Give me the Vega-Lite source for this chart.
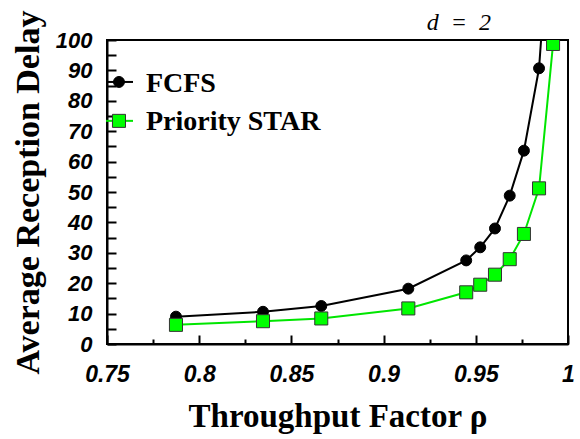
{
  "$schema": "https://vega.github.io/schema/vega-lite/v6.json",
  "width": 461,
  "height": 304,
  "autosize": {"type": "none"},
  "padding": {"left": 107, "top": 40, "right": 12, "bottom": 95},
  "background": "white",
  "config": {
    "view": {"stroke": "black", "strokeWidth": 2}
  },
  "title": {"text": "d\u2002=\u20022", "font": "Liberation Serif", "fontStyle": "italic", "fontWeight": "normal", "fontSize": 24, "color": "black", "anchor": "end", "frame": "group", "dx": -77, "dy": 57, "offset": 13, "baseline": "alphabetic"},
  "datasets": {
    "curves": [
      {"series": "FCFS", "rho": 0.7874, "delay": 9.0},
      {"series": "FCFS", "rho": 0.8346, "delay": 10.6},
      {"series": "FCFS", "rho": 0.8662, "delay": 12.5},
      {"series": "FCFS", "rho": 0.9134, "delay": 18.2},
      {"series": "FCFS", "rho": 0.9448, "delay": 27.5},
      {"series": "FCFS", "rho": 0.9524, "delay": 31.8},
      {"series": "FCFS", "rho": 0.9604, "delay": 38.0},
      {"series": "FCFS", "rho": 0.9684, "delay": 48.8},
      {"series": "FCFS", "rho": 0.9761, "delay": 63.6},
      {"series": "FCFS", "rho": 0.9843, "delay": 90.7},
      {"series": "FCFS", "rho": 0.9880, "delay": 122},
      {"series": "Priority STAR", "rho": 0.7874, "delay": 6.3},
      {"series": "Priority STAR", "rho": 0.8346, "delay": 7.5},
      {"series": "Priority STAR", "rho": 0.8662, "delay": 8.4},
      {"series": "Priority STAR", "rho": 0.9134, "delay": 11.7},
      {"series": "Priority STAR", "rho": 0.9448, "delay": 17.0},
      {"series": "Priority STAR", "rho": 0.9524, "delay": 19.5},
      {"series": "Priority STAR", "rho": 0.9604, "delay": 22.8},
      {"series": "Priority STAR", "rho": 0.9684, "delay": 27.9},
      {"series": "Priority STAR", "rho": 0.9761, "delay": 36.2},
      {"series": "Priority STAR", "rho": 0.9843, "delay": 51.2},
      {"series": "Priority STAR", "rho": 0.9919, "delay": 98.7}
    ],
    "legend_lines": [
      {"series": "FCFS", "rho": 0.7495, "delay": 86.2},
      {"series": "FCFS", "rho": 0.7641, "delay": 86.2},
      {"series": "Priority STAR", "rho": 0.7495, "delay": 73.4},
      {"series": "Priority STAR", "rho": 0.7641, "delay": 73.4}
    ],
    "legend_marks": [
      {"series": "FCFS", "rho": 0.7565, "delay": 86.2},
      {"series": "Priority STAR", "rho": 0.7565, "delay": 73.4}
    ],
    "legend_text": [
      {"series": "FCFS", "rho": 0.7711, "delay": 82.9, "label": "FCFS"},
      {"series": "Priority STAR", "rho": 0.7711, "delay": 70.4, "label": "Priority STAR"}
    ]
  },
  "encoding": {
    "x": {
      "field": "rho", "type": "quantitative",
      "scale": {"domain": [0.75, 1], "nice": false, "zero": false},
      "axis": {
        "values": [0.75, 0.775, 0.8, 0.825, 0.85, 0.875, 0.9, 0.925, 0.95, 0.975, 1.0],
        "format": "~g",
        "labelExpr": "abs(datum.value*20 - round(datum.value*20)) < 0.001 ? datum.label : ''",
        "tickSize": {"condition": {"test": "abs(datum.value*20 - round(datum.value*20)) < 0.001", "value": -9}, "value": -5},
        "tickColor": "black", "tickWidth": 2,
        "domainColor": "black", "domainWidth": 2, "grid": false,
        "labelFont": "Liberation Sans", "labelFontWeight": "bold", "labelFontStyle": "italic", "labelFontSize": 23, "labelColor": "black",
        "labelPadding": 28, "labelFlush": false, "labelOverlap": false,
        "title": "Throughput Factor ρ", "titleFont": "Liberation Serif", "titleFontWeight": "bold", "titleFontSize": 33, "titleColor": "black", "titlePadding": 10
      }
    },
    "y": {
      "field": "delay", "type": "quantitative",
      "scale": {"domain": [0, 100], "nice": false, "zero": false},
      "axis": {
        "values": [0, 5, 10, 15, 20, 25, 30, 35, 40, 45, 50, 55, 60, 65, 70, 75, 80, 85, 90, 95, 100],
        "format": "d",
        "labelExpr": "datum.value % 10 === 0 ? datum.label : ''",
        "tickSize": -9,
        "tickColor": "black", "tickWidth": 2,
        "domainColor": "black", "domainWidth": 2, "grid": false,
        "labelFont": "Liberation Sans", "labelFontWeight": "bold", "labelFontStyle": "italic", "labelFontSize": 22, "labelColor": "black",
        "labelPadding": 24, "labelFlush": false, "labelOverlap": false,
        "title": "Average Reception Delay", "titleFont": "Liberation Serif", "titleFontWeight": "bold", "titleFontSize": 34, "titleColor": "black", "titlePadding": 10
      }
    }
  },
  "layer": [
    {
      "data": {"name": "curves"},
      "mark": {"type": "line", "clip": true, "strokeWidth": 2},
      "encoding": {
        "color": {"field": "series", "type": "nominal", "scale": {"domain": ["FCFS", "Priority STAR"], "range": ["#000000", "#00e600"]}, "legend": null}
      }
    },
    {
      "data": {"name": "legend_lines"},
      "mark": {"type": "line", "clip": false, "strokeWidth": 2},
      "encoding": {
        "color": {"field": "series", "type": "nominal", "legend": null}
      }
    },
    {
      "data": {"name": "curves"},
      "mark": {"type": "point", "filled": true, "clip": true, "strokeWidth": 1, "opacity": 1},
      "encoding": {
        "shape": {"field": "series", "type": "nominal", "scale": {"domain": ["FCFS", "Priority STAR"], "range": ["circle", "square"]}, "legend": null},
        "fill": {"field": "series", "type": "nominal", "scale": {"domain": ["FCFS", "Priority STAR"], "range": ["#000000", "#00ff00"]}, "legend": null},
        "stroke": {"field": "series", "type": "nominal", "scale": {"domain": ["FCFS", "Priority STAR"], "range": ["#000000", "#333333"]}, "legend": null},
        "size": {"field": "series", "type": "nominal", "scale": {"domain": ["FCFS", "Priority STAR"], "range": [120, 170]}, "legend": null}
      }
    },
    {
      "data": {"name": "legend_marks"},
      "mark": {"type": "point", "filled": true, "clip": false, "strokeWidth": 1, "opacity": 1},
      "encoding": {
        "shape": {"field": "series", "type": "nominal", "legend": null},
        "fill": {"field": "series", "type": "nominal", "legend": null},
        "stroke": {"field": "series", "type": "nominal", "legend": null},
        "size": {"field": "series", "type": "nominal", "legend": null}
      }
    },
    {
      "data": {"name": "legend_text"},
      "mark": {"type": "text", "align": "left", "baseline": "alphabetic", "font": "Liberation Serif", "fontWeight": "bold", "fontSize": 28, "color": "black"},
      "encoding": {
        "text": {"field": "label", "type": "nominal"}
      }
    }
  ]
}
